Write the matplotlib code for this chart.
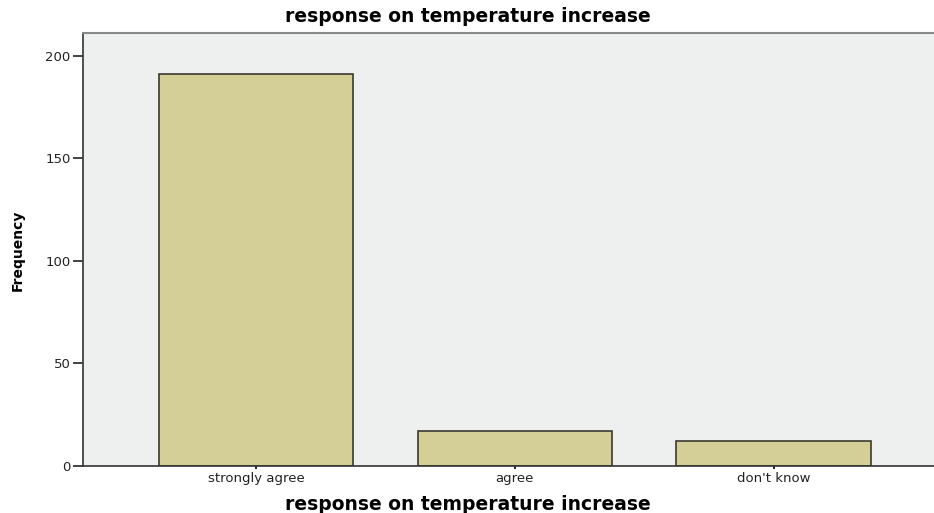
import matplotlib
matplotlib.use("Agg")
import matplotlib.pyplot as plt

# Data
categories = ["strongly agree", "agree", "don't know"]
frequency = [191, 17, 12]
y_ticks = [0, 50, 100, 150, 200]

fig = plt.figure(figsize=(9.34, 5.13), dpi=100)
ax = fig.add_axes([0.0889, 0.0916, 0.9111, 0.8441])
ax.set_facecolor("#eef0ef")

x = list(range(len(categories)))
ax.bar(x, frequency, width=0.75, color="#d4ce97", edgecolor="#3a3a30", linewidth=1.2, zorder=2)

ax.set_xlim(-0.668, 2.62)
ax.set_ylim(0, 211)
ax.set_yticks(y_ticks)
ax.set_xticks(x)
ax.set_xticklabels(categories, fontsize=9.5, color="#222222")
ax.tick_params(axis="y", labelsize=9.5, length=7, width=1.2, direction="out", colors="#222222", pad=2)
ax.tick_params(axis="x", length=5, width=1.2, direction="inout", pad=2)

for side in ["left", "bottom"]:
    ax.spines[side].set_color("#333333")
    ax.spines[side].set_linewidth(1.2)
ax.spines["top"].set_color("#888888")
ax.spines["top"].set_linewidth(1.5)
ax.spines["right"].set_visible(False)

fig.text(0.501, 0.968, "response on temperature increase", ha="center", va="center",
         fontsize=13.5, fontweight="bold", family="DejaVu Sans")
fig.text(0.501, 0.017, "response on temperature increase", ha="center", va="center",
         fontsize=13.5, fontweight="bold", family="DejaVu Sans")
fig.text(0.019, 0.513, "Frequency", ha="center", va="center", rotation=90,
         fontsize=10, fontweight="bold", family="Liberation Sans Narrow")

fig.savefig("out.png", dpi=100)
